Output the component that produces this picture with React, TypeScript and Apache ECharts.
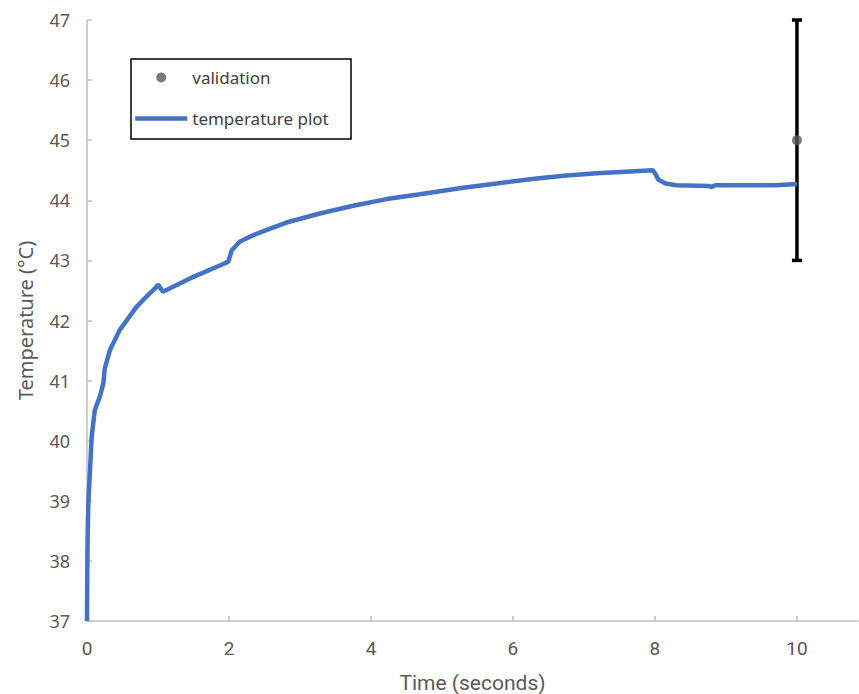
import React, { useEffect, useRef } from "react";
import * as echarts from "echarts";

const timeSeconds = [0, 0.005, 0.01, 0.02, 0.042, 0.066, 0.11, 0.18, 0.23, 0.25, 0.32, 0.46, 0.7, 0.84, 0.98, 1.0, 1.07, 1.45, 1.92, 1.99, 2.04, 2.15, 2.34, 2.58, 2.81, 3.28, 3.75, 4.22, 4.69, 5.3, 5.77, 6.24, 6.71, 7.18, 7.65, 7.97, 8.0, 8.05, 8.15, 8.3, 8.75, 8.8, 8.85, 9.7, 10];
const temperature = [37, 38.0, 38.5, 39.0, 39.5, 40.07, 40.51, 40.73, 40.95, 41.2, 41.5, 41.84, 42.23, 42.4, 42.56, 42.6, 42.48, 42.7, 42.94, 42.98, 43.17, 43.31, 43.42, 43.53, 43.63, 43.78, 43.91, 44.02, 44.1, 44.21, 44.28, 44.35, 44.41, 44.45, 44.48, 44.5, 44.45, 44.34, 44.28, 44.25, 44.24, 44.22, 44.25, 44.25, 44.27];

const validationTime = [10];
const validationTemp = [45];
const validationLow = [43];
const validationHigh = [47];

const xTicks = [0, 2, 4, 6, 8, 10];
const yTicks = [37, 38, 39, 40, 41, 42, 43, 44, 45, 46, 47];

export default function App() {
  const ref = useRef<HTMLDivElement>(null);
  useEffect(() => {
    if (!ref.current) return;
    const chart = echarts.init(ref.current, null, { renderer: "svg" });
    const lineData = timeSeconds.map((t, i) => [t, temperature[i]]);
    const valData = validationTime.map((t, i) => [t, validationTemp[i]]);
    const errData = validationTime.map((t, i) => [t, validationLow[i], validationHigh[i]]);
    const tickFont = "'Liberation Sans Narrow', 'Roboto', sans-serif";
    const yFont = "'Noto Sans', 'Open Sans', sans-serif";
    chart.setOption({
      animation: false,
      backgroundColor: "#ffffff",
      grid: { left: 87, top: 20, right: 1, bottom: 73, containLabel: false, outerBoundsMode: "none" },
      xAxis: {
        type: "value",
        min: 0,
        max: 10.86,
        interval: 2,
        name: "Time (seconds)",
        nameLocation: "middle",
        nameGap: 51,
        nameTextStyle: { color: "#595959", fontSize: 21, fontFamily: tickFont },
        axisLine: { lineStyle: { color: "#bfbfbf", width: 1.5 } },
        axisTick: { inside: true, length: 5, lineStyle: { color: "#bfbfbf", width: 1.5 } },
        splitLine: { show: false },
        axisLabel: {
          margin: 18,
          color: "#595959",
          fontSize: 19,
          fontFamily: tickFont,
          showMaxLabel: false,
          formatter: (v: number) => (xTicks.includes(v) ? String(v) : ""),
        },
      },
      yAxis: {
        type: "value",
        min: yTicks[0],
        max: yTicks[yTicks.length - 1],
        interval: 1,
        name: "Temperature (°C)",
        nameLocation: "middle",
        nameGap: 52,
        nameTextStyle: { color: "#595959", fontSize: 20, fontFamily: yFont },
        axisLine: { show: true, lineStyle: { color: "#bfbfbf", width: 1.5 } },
        axisTick: { show: true, inside: true, length: 5, lineStyle: { color: "#bfbfbf", width: 1.5 } },
        splitLine: { show: false },
        axisLabel: { margin: 17, color: "#595959", fontSize: 18, fontFamily: yFont },
      },
      legend: {
        data: [
          { name: "validation" },
          { name: "temperature plot", itemStyle: { opacity: 0 }, lineStyle: { width: 4.5, color: "#4472c4" } },
        ],
        orient: "vertical",
        left: 133,
        top: 69,
        itemWidth: 52,
        itemHeight: 10,
        itemGap: 24,
        padding: 0,
        textStyle: { color: "#404040", fontSize: 17, fontFamily: yFont },
      },
      graphic: [
        {
          type: "rect",
          x: 131,
          y: 59,
          shape: { width: 220, height: 80 },
          style: { fill: "none", stroke: "#000000", lineWidth: 1.5 },
          z: 10,
        },
      ],
      series: [
        {
          name: "validation",
          type: "scatter",
          data: valData,
          symbol: "circle",
          symbolSize: 10,
          itemStyle: { color: "#595959" },
          z: 5,
        },
        {
          name: "error bar",
          type: "custom",
          data: errData,
          z: 3,
          renderItem: (params: any, api: any) => {
            const x = api.value(0);
            const lo = api.coord([x, api.value(1)]);
            const hi = api.coord([x, api.value(2)]);
            const half = 5;
            const style = { stroke: "#000000", lineWidth: 3.5 };
            return {
              type: "group",
              children: [
                { type: "line", shape: { x1: lo[0], y1: lo[1], x2: hi[0], y2: hi[1] }, style },
                { type: "line", shape: { x1: lo[0] - half, y1: lo[1], x2: lo[0] + half, y2: lo[1] }, style },
                { type: "line", shape: { x1: hi[0] - half, y1: hi[1], x2: hi[0] + half, y2: hi[1] }, style },
              ],
            };
          },
        },
        {
          name: "temperature plot",
          type: "line",
          data: lineData,
          showSymbol: false,
          symbol: "none",
          lineStyle: { color: "#4472c4", width: 4.5 },
          itemStyle: { color: "#4472c4" },
          z: 4,
        },
      ],
    });
    return () => chart.dispose();
  }, []);
  return <div ref={ref} style={{ width: 859, height: 694, position: "absolute", left: 0, top: 0 }} />;
}
